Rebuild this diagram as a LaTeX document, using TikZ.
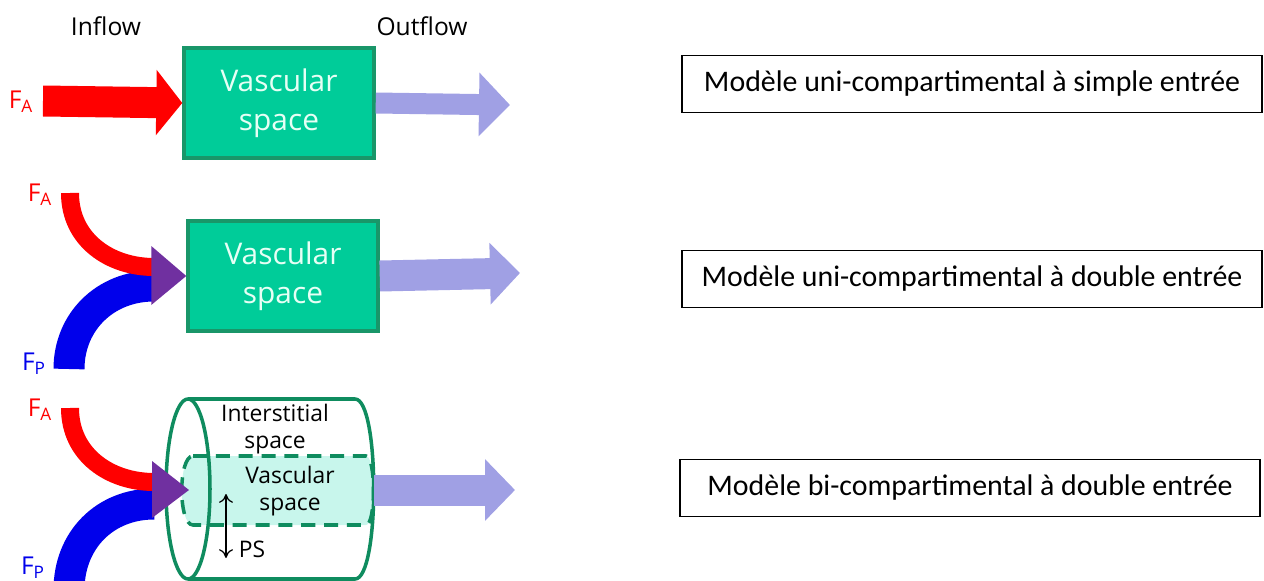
\documentclass[tikz,border=0pt]{standalone}
\usepackage{fontspec}
\setmainfont{Open Sans}
\newfontfamily\boxfont{Carlito}
\usetikzlibrary{arrows.meta}

\definecolor{artred}{RGB}{255,0,0}
\definecolor{portblue}{RGB}{0,0,235}
\definecolor{mixpurple}{RGB}{112,48,160}
\definecolor{vasgreen}{RGB}{0,204,153}
\definecolor{vasedge}{RGB}{25,150,105}
\definecolor{vastext}{RGB}{230,255,245}
\definecolor{outlav}{RGB}{160,160,228}
\definecolor{cylgreen}{RGB}{15,140,95}
\definecolor{vasfill}{RGB}{200,246,236}

\tikzset{
  vasbox/.style={draw=vasedge, line width=2pt, fill=vasgreen, text=vastext,
    minimum width=3.8cm, minimum height=2.2cm, align=center,
    font=\fontsize{17}{22}\selectfont},
  modelbox/.style={draw, thick, minimum width=11.6cm, minimum height=1.14cm,
    font=\boxfont\fontsize{17}{20}\selectfont},
  flowlabel/.style={font=\fontsize{14}{16}\selectfont},
  smalllabel/.style={font=\fontsize{13}{15}\selectfont, align=center},
  inarrow/.style={artred, line width=0.62cm, -{Triangle[length=0.52cm,width=1.28cm]}},
  outarrow/.style={outlav, line width=0.62cm, -{Triangle[length=0.6cm,width=1.2cm]}},
  artcurve/.style={artred, line width=0.36cm},
  portcurve/.style={portblue, line width=0.62cm},
  cylline/.style={cylgreen, line width=2pt},
  dashline/.style={cylgreen, line width=2pt, dash pattern=on 8pt off 5pt}
}

\begin{document}
\begin{tikzpicture}[x=0.02cm, y=-0.02cm]
  \useasboundingbox (0,0) rectangle (1264,581);

  \node[flowlabel] (inflow) at (106,26) {Inflow};
  \node[flowlabel] (outflow) at (422,26) {Outflow};

  % simple entree
  \node[vasbox] (vas1) at (279,103) {Vascular\\space};
  \node[flowlabel, artred] (fa1) at (21,102) {F\textsubscript{A}};
  \coordinate (in1) at (43,101);
  \coordinate (out1) at (510,105);
  \draw[inarrow] (in1) -- (vas1.west);
  \draw[outarrow, line width=0.42cm, -{Triangle[length=0.62cm,width=1.24cm]}] (vas1.east) -- (out1);

  % double entree
  \node[vasbox] (vas2) at (283,276) {Vascular\\space};
  \node[flowlabel, artred] (fa2) at (40,195) {F\textsubscript{A}};
  \node[flowlabel, portblue] (fp2) at (34,364) {F\textsubscript{P}};
  \coordinate (a2) at (70,193);
  \coordinate (p2) at (69,369);
  \coordinate (out2) at (520,273);
  \draw[portcurve] (p2) .. controls (69,322) and (105,286) .. (154,286);
  \draw[artcurve] (a2) .. controls (70,240) and (110,267) .. (154,267);
  \fill[mixpurple] (vas2.west) -- ++(-35,-30) -- ++(0,59) -- cycle;
  \draw[outarrow] (vas2.east) -- (out2);

  % bi-compartimental
  \node[flowlabel, artred] (fa3) at (40,410) {F\textsubscript{A}};
  \node[flowlabel, portblue] (fp3) at (33,568) {F\textsubscript{P}};
  \coordinate (a3) at (70,408);
  \coordinate (p3) at (69,590);
  \coordinate (cylin) at (189,490);
  \coordinate (cylout) at (374,490);
  \coordinate (out3) at (515,490);
  \fill[vasfill] (193,456) -- (366,456) .. controls (376,456) and (376,525) .. (366,525)
    -- (193,525) .. controls (178,525) and (178,456) .. (193,456);
  \draw[cylline] (188,399) -- (355,399) .. controls (380,399) and (380,579) .. (355,579) -- (188,579);
  \draw[cylline] (188,489) ellipse [x radius=0.44cm, y radius=1.8cm];
  \draw[dashline] (193,456) -- (366,456) .. controls (376,456) and (376,525) .. (366,525)
    -- (193,525) .. controls (178,525) and (178,456) .. (193,456);
  \draw[portcurve] (p3) .. controls (69,540) and (105,504) .. (154,504);
  \draw[artcurve] (a3) .. controls (70,455) and (110,482) .. (154,482);
  \fill[mixpurple] (cylin) -- ++(-37,-29) -- ++(0,57) -- cycle;
  \draw[outarrow] (cylout) -- (out3);
  \node[smalllabel] (inter) at (275,429) {Interstitial\\space};
  \node[smalllabel] (vas3) at (290,491) {Vascular\\space};
  \coordinate (ps1) at (226,494);
  \coordinate (ps2) at (226,558);
  \draw[{To[length=5pt,width=8pt]}-{To[length=5pt,width=8pt]}, line width=0.7pt] (ps1) -- (ps2);
  \node[smalllabel] (ps) at (252,549) {PS};

  % modeles
  \node[modelbox] (m1) at (972,84) {Modèle uni-compartimental à simple entrée};
  \node[modelbox] (m2) at (972,279) {Modèle uni-compartimental à double entrée};
  \node[modelbox] (m3) at (970,488) {Modèle bi-compartimental à double entrée};
\end{tikzpicture}
\end{document}
